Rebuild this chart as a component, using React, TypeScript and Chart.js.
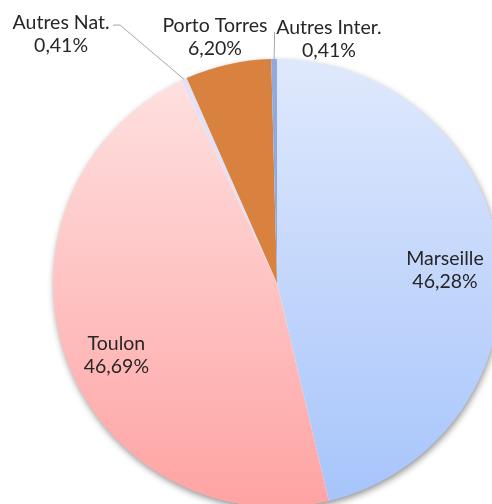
import { useEffect, useRef } from 'react';
import { Chart, registerables } from 'chart.js';

Chart.register(...registerables);

// ---- data ----
const categories = ['Marseille', 'Toulon', 'Autres Nat.', 'Porto Torres', 'Autres Inter.'];
const shares = [46.28, 46.69, 0.41, 6.2, 0.41];

// ---- styles ----
const gradientTop = ['#dfe9fc', '#fee3e3', null, null, null];
const gradientBottom = ['#a6c4fb', '#ffa3a3', null, null, null];
const solidColors = ['#c3d6fb', '#ffc3c3', '#e3e1f5', '#d9823f', '#8faadc'];

// label centres in units of the pie radius, relative to the pie centre
const labelPlacement: [number, number][] = [
  [0.75, -0.065],
  [-0.717, 0.315],
  [-0.964, -1.118],
  [-0.277, -1.105],
  [0.232, -1.096],
];
// leader knee offsets (px, relative to label centre); null = no leader
const leaderKnee: ([number, number] | null)[] = [null, null, [59, -7.5], null, [-54, -5.5]];
const leaderEnd: ([number, number] | null)[] = [null, null, [52, -7.5], null, null];

const fmt = (v: number) => v.toFixed(2).replace('.', ',') + '%';

const shadowPlugin = {
  id: 'pieShadow',
  beforeDatasetsDraw(chart: any) {
    const arc = chart.getDatasetMeta(0).data[0];
    if (!arc) return;
    const { x, y, outerRadius } = arc.getProps(['x', 'y', 'outerRadius'], true);
    const ctx = chart.ctx;
    ctx.save();
    ctx.shadowColor = 'rgba(0,0,0,0.45)';
    ctx.shadowBlur = 7;
    ctx.shadowOffsetX = 1;
    ctx.shadowOffsetY = 3;
    ctx.beginPath();
    ctx.arc(x, y, outerRadius - 0.5, 0, Math.PI * 2);
    ctx.fillStyle = '#ffffff';
    ctx.fill();
    ctx.restore();
  },
};

const labelPlugin = {
  id: 'pieLabels',
  afterDatasetsDraw(chart: any) {
    const ctx = chart.ctx;
    const meta = chart.getDatasetMeta(0);
    ctx.save();
    ctx.font = '19.5px Lato';
    ctx.fillStyle = '#262626';
    ctx.textAlign = 'center';
    ctx.textBaseline = 'middle';
    meta.data.forEach((arc: any, i: number) => {
      const { x, y, outerRadius, startAngle, endAngle } = arc.getProps(
        ['x', 'y', 'outerRadius', 'startAngle', 'endAngle'],
        true
      );
      const lx = x + labelPlacement[i][0] * outerRadius;
      const ly = y + labelPlacement[i][1] * outerRadius;
      const knee = leaderKnee[i];
      if (knee) {
        const mid = (startAngle + endAngle) / 2;
        const ex = x + Math.cos(mid) * outerRadius;
        const ey = y + Math.sin(mid) * outerRadius;
        ctx.save();
        ctx.strokeStyle = '#a6a6a6';
        ctx.lineWidth = 1;
        ctx.beginPath();
        ctx.moveTo(ex, ey);
        if (i === 4) {
          ctx.lineTo(ex + 0.5, ly + knee[1]);
        } else {
          ctx.lineTo(lx + knee[0], ly + knee[1]);
          const end = leaderEnd[i];
          if (end) ctx.lineTo(lx + end[0], ly + end[1]);
        }
        ctx.stroke();
        ctx.restore();
      }
      ctx.fillText(categories[i], lx, ly - 10);
      ctx.fillText(fmt(shares[i]), lx, ly + 13);
    });
    ctx.restore();
  },
};

export default function App() {
  const ref = useRef<HTMLCanvasElement>(null);
  useEffect(() => {
    const canvas = ref.current;
    if (!canvas) return;
    const chart = new Chart(canvas, {
      type: 'pie',
      data: {
        labels: categories,
        datasets: [
          {
            data: shares,
            borderWidth: 0,
            backgroundColor: (c: any) => {
              const i = c.dataIndex;
              const area = c.chart.chartArea;
              if (gradientTop[i] && area) {
                const g = c.chart.ctx.createLinearGradient(0, area.top, 0, area.bottom);
                g.addColorStop(0, gradientTop[i] as string);
                g.addColorStop(1, gradientBottom[i] as string);
                return g;
              }
              return solidColors[i];
            },
          },
        ],
      },
      options: {
        responsive: false,
        animation: false,
        layout: { padding: { left: 53, top: 59, right: 19, bottom: 13 } },
        plugins: { legend: { display: false }, tooltip: { enabled: false } },
      },
      plugins: [shadowPlugin, labelPlugin],
    } as any);
    return () => chart.destroy();
  }, []);
  return (
    <div
      style={{
        position: 'fixed',
        left: 0,
        top: 0,
        width: 492,
        height: 504,
        overflow: 'hidden',
        background: '#ffffff',
      }}
    >
      <canvas ref={ref} width={520} height={520} style={{ display: 'block' }} />
    </div>
  );
}
